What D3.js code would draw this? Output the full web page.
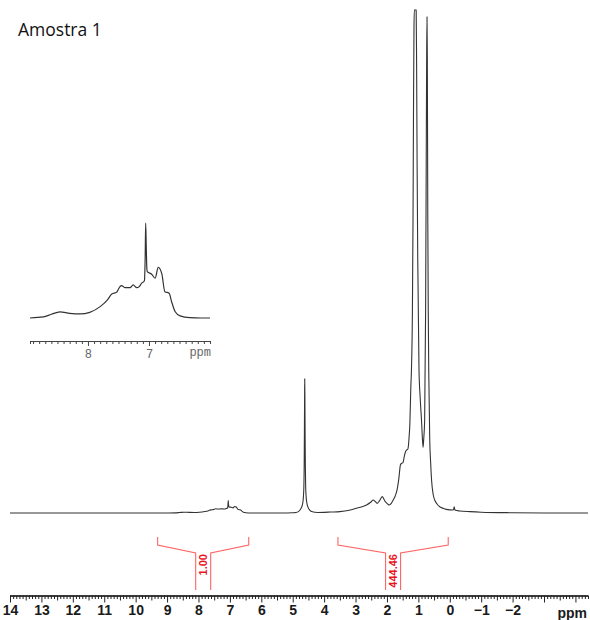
<!DOCTYPE html>
<html><head><meta charset="utf-8">
<script src="https://cdn.jsdelivr.net/npm/d3@7"></script>
<style>html,body{margin:0;padding:0;background:#fff}svg{display:block}</style>
</head><body>
<svg id="c" width="590" height="620"></svg>
<script>
// ---------------- data ----------------
const title = "Amostra 1";
// [ppm, intensity]
const lowFieldBaseline = [[14.0,0],[13,0],[12,0],[11,0],[10,0],[9.4,0],[9.1,0]];
const aromatic = [
  [8.95,0],[8.73,0.1],[8.60,0.36],[8.46,0.6],[8.30,0.45],[8.13,0.39],[7.97,0.55],
  [7.80,1.1],[7.68,1.75],[7.61,2.33],[7.53,2.5],[7.475,3.04],[7.45,3.14],[7.39,2.94],
  [7.31,2.94],[7.26,3.2],[7.20,2.94],[7.16,3.04],[7.12,3.37],[7.09,3.5],[7.075,3.6],
  [7.062,6.0],[7.054,9.2],[7.045,7.0],[7.035,4.8],[7.028,4.5],[6.956,4.24],[6.90,3.85],
  [6.848,4.9],[6.79,4.3],[6.74,2.55],[6.67,2.4],[6.63,1.6],[6.57,0.6],[6.49,0.2],
  [6.33,0.03],[6.15,0],[6.0,0]
];
const midField = [[5.8,0],[5.5,0],[5.2,0.05],[5.0,0.2],[4.9,0.4]];
const waterPeak = [
  [4.82,1.0],[4.77,2.2],[4.72,4.2],[4.68,7.5],[4.66,12],[4.645,20],[4.635,35],[4.628,60],
  [4.622,85],[4.618,100],[4.612,85],[4.606,60],[4.598,35],[4.588,20],[4.572,12],
  [4.55,7.5],[4.51,4.2],[4.46,2.2],[4.40,1.1]
];
const aliphatic = [
  [4.2,0.4],[4.0,0.5],[3.8,0.7],[3.5,1.0],[3.2,2.0],[2.97,3.5],[2.80,4.6],[2.65,6],
  [2.52,8],[2.44,9.7],[2.38,8.8],[2.31,7.2],[2.24,9],[2.15,12.2],[2.10,10.5],[2.05,8.4],
  [1.98,6.8],[1.93,6],[1.86,7.2],[1.80,9.7],[1.74,12.5],[1.68,17],[1.62,26],[1.57,36],
  [1.53,37],[1.49,37.5],[1.45,42],[1.41,45.7],[1.37,47],[1.33,48],[1.30,55],[1.27,67],
  [1.24,94],[1.22,107],[1.19,150],[1.17,220],[1.155,300],[1.14,360],[1.13,375],
  [1.07,375],[1.055,330],[1.04,260],[1.02,190],[0.98,107],[0.94,85],[0.90,69],
  [0.87,55],[0.85,49],[0.83,55],[0.80,69],[0.77,150],[0.75,260],[0.735,345],
  [0.725,370],[0.715,340],[0.70,220],[0.685,150],[0.67,107],[0.65,75],[0.64,57],
  [0.61,38],[0.58,24.6],[0.53,14],[0.48,9.7],[0.40,6.5],[0.32,4.7],[0.20,3.4],
  [0.11,2.7],[0.0,2.3],[-0.10,2.2],[-0.125,3.0],[-0.14,4.7],[-0.155,3.0],[-0.18,2.0],
  [-0.32,1.5],[-0.64,1.0],[-1.0,0.6],[-2.0,0.2],[-3.0,0.05],[-4.4,0]
];
const majorTicks = [14,13,12,11,10,9,8,7,6,5,4,3,2,1,0,-1,-2,-3,-4];
const tickLabels = ["14","13","12","11","10","9","8","7","6","5","4","3","2","1","0","\u22121","\u22122","",""];
const axisUnit = "ppm";
const unitPos = -3.9;
const integralFrom = [9.3, 3.56];
const integralTo = [6.4, 0.05];
const integralValues = ["1.00", "444.46"];
const insetRange = [8.95, 6.0];
const insetMajor = [8, 7];
const insetLabels = ["8", "7"];

// ---------------- chart ----------------
const svg = d3.select("#c");
const x = d3.scaleLinear().domain([14.0, -4.4]).range([10, 588]);
const y = d3.scaleLinear().domain([0, 375]).range([513, 10]);

const spectrum = [].concat(lowFieldBaseline, aromatic, midField, waterPeak, aliphatic);
const line = d3.line().x(d => x(d[0])).y(d => y(d[1])).curve(d3.curveMonotoneX);
svg.append("path").datum(spectrum).attr("d", line)
  .attr("fill", "none").attr("stroke", "#333").attr("stroke-width", 1.1)
  .attr("stroke-linejoin", "round");

// main axis
const axisY = 595.5;
const minorTicks = d3.range(140, -45, -1).map(v => v / 10).filter(v => !Number.isInteger(v));
const gMinor = svg.append("g").attr("transform", `translate(0,${axisY})`)
  .call(d3.axisBottom(x).tickValues(minorTicks.filter(v => Math.abs(v % 1) !== 0.5)).tickSize(3.5).tickSizeOuter(0).tickFormat(""));
const gMid = svg.append("g").attr("transform", `translate(0,${axisY})`)
  .call(d3.axisBottom(x).tickValues(minorTicks.filter(v => Math.abs(v % 1) === 0.5)).tickSize(5).tickSizeOuter(0).tickFormat(""));
const gMajor = svg.append("g").attr("transform", `translate(0,${axisY})`)
  .call(d3.axisBottom(x).tickValues(majorTicks).tickSize(7).tickSizeOuter(0)
    .tickFormat((d, i) => tickLabels[i]));
[gMinor, gMid, gMajor].forEach(g => {
  g.selectAll("path,line").attr("stroke", "#222").attr("stroke-width", 1);
  g.select(".domain").attr("d", `M${x.range()[0]},0.5H${x.range()[1]}`);
});
gMajor.selectAll("text").attr("y", 10).attr("dy", "0.71em")
  .attr("font-family", "Liberation Sans, Arial, sans-serif").attr("font-weight", "bold")
  .attr("font-size", 14).attr("fill", "#1a1a1a");
svg.append("text").attr("x", x(unitPos)).attr("y", 617.5).attr("text-anchor", "middle")
  .attr("font-family", "Liberation Sans, Arial, sans-serif").attr("font-weight", "bold")
  .attr("font-size", 14).attr("fill", "#1a1a1a").text(axisUnit);

// integrals
const red = "#ff6464";
integralFrom.forEach((f, i) => {
  const x0 = x(f), x1 = x(integralTo[i]), xc = (x0 + x1) / 2;
  const p = d3.path();
  p.moveTo(x0, 537); p.lineTo(x0, 545); p.lineTo(xc - 7.5, 553); p.lineTo(xc - 7.5, 590);
  p.moveTo(x1, 537); p.lineTo(x1, 545); p.lineTo(xc + 7.5, 553); p.lineTo(xc + 7.5, 590);
  svg.append("path").attr("d", p.toString()).attr("fill", "none")
    .attr("stroke", red).attr("stroke-width", 1.1);
  svg.append("text").attr("transform", `translate(${xc + 4},${554}) rotate(-90)`)
    .attr("text-anchor", "end")
    .attr("font-family", "Liberation Sans, Arial, sans-serif").attr("font-weight", "bold")
    .attr("font-size", 11).attr("fill", "#e8141e").text(integralValues[i]);
});

// inset
const xi = d3.scaleLinear().domain(insetRange).range([30, 210]);
const yi = d3.scaleLinear().domain([0, 9.2]).range([318, 223]);
const insetLine = d3.line().x(d => xi(d[0])).y(d => yi(d[1])).curve(d3.curveMonotoneX);
svg.append("path").datum(aromatic).attr("d", insetLine)
  .attr("fill", "none").attr("stroke", "#333").attr("stroke-width", 1.2);
const iAxisY = 341;
const insetMinor = d3.range(60, 90, 1).map(v => v / 10).filter(v => !Number.isInteger(v)).concat([insetRange[0], insetRange[1]]);
const gi = svg.append("g").attr("transform", `translate(0,${iAxisY})`)
  .call(d3.axisBottom(xi).tickValues(insetMinor).tickSize(3).tickSizeOuter(0).tickFormat(""));
const gi2 = svg.append("g").attr("transform", `translate(0,${iAxisY})`)
  .call(d3.axisBottom(xi).tickValues(insetMajor).tickSize(5).tickSizeOuter(0)
    .tickFormat((d, i) => insetLabels[i]));
[gi, gi2].forEach(g => g.selectAll("path,line").attr("stroke", "#444").attr("stroke-width", 1));
gi2.selectAll("text").attr("y", 8).attr("dy", "0.71em")
  .attr("font-family", "Liberation Mono, monospace").attr("font-size", 12).attr("fill", "#666");
svg.append("text").attr("x", 211).attr("y", 356).attr("text-anchor", "end")
  .attr("font-family", "Liberation Mono, monospace").attr("font-size", 12).attr("fill", "#666")
  .text(axisUnit);

// title
svg.append("text").attr("x", 18).attr("y", 36)
  .attr("font-family", "'Open Sans', Lato, sans-serif").attr("font-size", 17.5).attr("fill", "#111")
  .text(title);
</script>
</body></html>
